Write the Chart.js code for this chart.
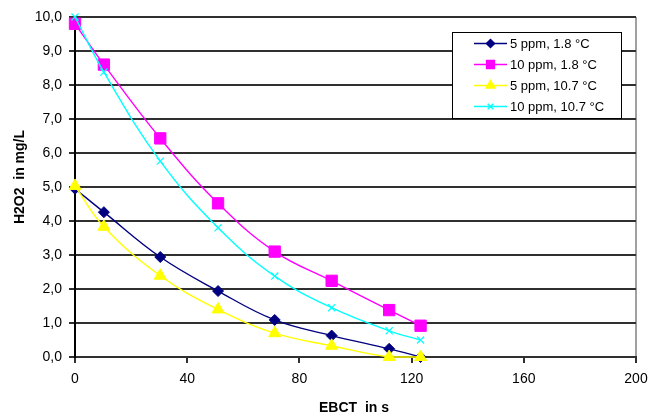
<!DOCTYPE html>
<html>
<head>
<meta charset="utf-8">
<script src="https://cdn.jsdelivr.net/npm/chart.js@4/dist/chart.umd.min.js"></script>
<style>
  html, body { margin: 0; padding: 0; background: #fff; }
  #wrap { width: 651px; height: 413px; }
</style>
</head>
<body>
<div id="wrap"><canvas id="chart" width="651" height="413"></canvas></div>
<script>
// EBCT (s) for each sample
const ebct = [0, 10.3, 30.4, 51, 71.2, 91.5, 112, 123.2];

// H2O2 in mg/L per series
const ppm5Cold = [4.95, 4.26, 2.94, 1.94, 1.09, 0.63, 0.24, 0.0];
const ppm10Cold = [9.8, 8.6, 6.43, 4.52, 3.1, 2.24, 1.38, 0.92];
const ppm5Warm = [5.03, 3.83, 2.39, 1.4, 0.7, 0.33, 0.0, 0.0];
const ppm10Warm = [10.0, 8.38, 5.76, 3.8, 2.38, 1.45, 0.77, 0.5];

const seriesLabels = ['5 ppm, 1.8 °C', '10 ppm, 1.8 °C', '5 ppm, 10.7 °C', '10 ppm, 10.7 °C'];
const yTicks = [0, 1, 2, 3, 4, 5, 6, 7, 8, 9, 10];
const xTicks = [0, 40, 80, 120, 160, 200];
const xTitle = 'EBCT  in s';
const yTitle = 'H2O2  in mg/L';

const FONT = 'Arial, "Liberation Sans", sans-serif';

function toPoints(values) {
    return ebct.map((x, i) => ({ x: x, y: values[i] }));
}

const styles = [
    { color: '#000080', pointStyle: 'rectRot', radius: 5.5, legendRadius: 4 },
    { color: '#ff00ff', pointStyle: 'rect', radius: 8, legendRadius: 5.5 },
    { color: '#ffff00', pointStyle: 'triangle', radius: 7, legendRadius: 5 },
    { color: '#00ffff', pointStyle: 'crossRot', radius: 5, legendRadius: 4 }
];
const seriesData = [ppm5Cold, ppm10Cold, ppm5Warm, ppm10Warm];

const datasets = seriesData.map((values, i) => ({
    label: seriesLabels[i],
    data: toPoints(values),
    borderColor: styles[i].color,
    backgroundColor: styles[i].color,
    borderWidth: 1.4,
    pointStyle: styles[i].pointStyle,
    pointRadius: styles[i].radius,
    pointBorderWidth: styles[i].pointStyle === 'crossRot' ? 1.2 : 1,
    pointBorderColor: styles[i].color,
    pointBackgroundColor: styles[i].color,
    tension: 0.4,
    clip: false,
    order: 3 - i
}));

// legend box and axis titles drawn by hand, like the spreadsheet ones
const extras = {
    id: 'extras',
    afterDraw(chart) {
        const ctx = chart.ctx;
        const x = 452, y = 32, w = 169, h = 86;
        ctx.save();
        ctx.fillStyle = '#fff';
        ctx.fillRect(x, y, w, h);
        ctx.strokeStyle = '#000';
        ctx.lineWidth = 1;
        ctx.strokeRect(x + 0.5, y + 0.5, w, h);
        ctx.font = '13px ' + FONT;
        ctx.textBaseline = 'middle';
        seriesLabels.forEach((label, i) => {
            const ly = 43.5 + i * 21;
            ctx.strokeStyle = styles[i].color;
            ctx.lineWidth = 1.5;
            ctx.beginPath();
            ctx.moveTo(474, ly);
            ctx.lineTo(507, ly);
            ctx.stroke();
            ctx.fillStyle = styles[i].color;
            Chart.helpers.drawPoint(ctx, {
                pointStyle: styles[i].pointStyle,
                radius: styles[i].legendRadius,
                borderWidth: 1,
                rotation: 0
            }, 490.5, ly);
            ctx.fillStyle = '#000';
            ctx.fillText(label, 510, ly + 1);
        });

        ctx.fillStyle = '#000';
        ctx.font = 'bold 14px ' + FONT;
        ctx.textAlign = 'center';
        ctx.fillText(xTitle, 354, 408);
        ctx.translate(20, 177);
        ctx.rotate(-Math.PI / 2);
        ctx.fillText(yTitle, 0, 0);
        ctx.restore();
    }
};

new Chart(document.getElementById('chart'), {
    type: 'line',
    data: { datasets: datasets },
    options: {
        responsive: false,
        animation: false,
        layout: { padding: { top: 17, right: 15, left: 0, bottom: 0 } },
        plugins: {
            legend: { display: false },
            tooltip: { enabled: false }
        },
        scales: {
            x: {
                type: 'linear',
                min: 0,
                max: 200,
                afterBuildTicks: (scale) => { scale.ticks = xTicks.map(v => ({ value: v })); },
                afterFit: (scale) => {
                    scale.height = 56;
                    scale.paddingLeft = 0;
                    scale.paddingRight = 0;
                },
                ticks: {
                    color: '#000',
                    font: { family: FONT, size: 14 },
                    padding: 8,
                    maxRotation: 0
                },
                grid: {
                    drawOnChartArea: true,
                    color: (c) => c.tick && c.tick.value === 200 ? '#a0a0a0' : 'rgba(0,0,0,0)',
                    lineWidth: 2,
                    tickColor: '#303030',
                    tickLength: 6,
                    tickWidth: 2
                },
                border: { display: true, color: '#303030', width: 2 },
                title: { display: false }
            },
            y: {
                type: 'linear',
                min: 0,
                max: 10,
                afterBuildTicks: (scale) => { scale.ticks = yTicks.map(v => ({ value: v })); },
                afterFit: (scale) => {
                    scale.width = 75;
                    scale.paddingTop = 0;
                    scale.paddingBottom = 0;
                },
                ticks: {
                    color: '#000',
                    font: { family: FONT, size: 14 },
                    padding: 7,
                    callback: (v) => v.toFixed(1).replace('.', ',')
                },
                grid: {
                    color: '#303030',
                    lineWidth: 2,
                    tickLength: 6
                },
                border: { display: true, color: '#000', width: 2 },
                title: { display: false }
            }
        }
    },
    plugins: [extras]
});
</script>
</body>
</html>
